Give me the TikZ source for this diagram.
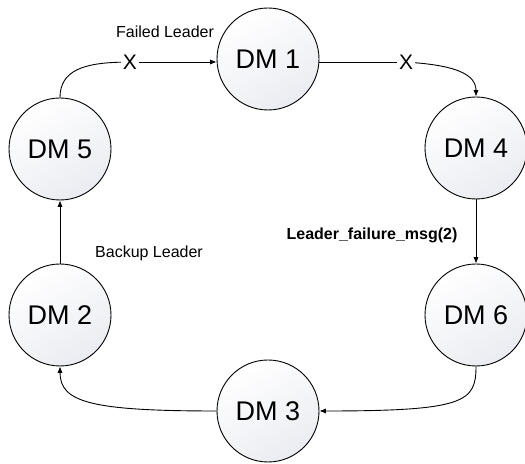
\documentclass[tikz,border=0pt]{standalone}
\usepackage{fontspec}
\setsansfont{Liberation Sans}
\usetikzlibrary{arrows.meta}
\definecolor{dmshade}{RGB}{234,236,241}

\begin{document}
\begin{tikzpicture}[
  x=0.5pt,
  y=-0.5pt,
  font=\sffamily,
  dmnode/.style={
    circle,
    draw=black,
    line width=0.45pt,
    shading=axis,
    top color=white,
    bottom color=dmshade,
    shading angle=30,
    minimum size=51pt,
    inner sep=0pt,
    font=\fontsize{13.5}{15}\sffamily
  },
  link/.style={draw=black, line width=0.45pt},
  arrowlink/.style={link, -{Latex[length=3.2pt,width=2.6pt]}},
  cross/.style={inner sep=0.8pt, font=\fontsize{10.5}{12}\sffamily},
  note/.style={font=\fontsize{8}{9.5}\sffamily, align=center},
  boldnote/.style={font=\fontsize{8}{9.5}\sffamily\bfseries, align=center}
]

\useasboundingbox (0,0) rectangle (525,464);

\node[dmnode] (dm1) at (268,59) {DM 1};
\node[dmnode] (dm4) at (476,148) {DM 4};
\node[dmnode] (dm6) at (476,315) {DM 6};
\node[dmnode] (dm3) at (268,411) {DM 3};
\node[dmnode] (dm2) at (60,315) {DM 2};
\node[dmnode] (dm5) at (60,149) {DM 5};

\node[cross] (x1) at (130,62) {X};
\node[cross] (x2) at (406,62) {X};

\draw[link] (dm5.north) .. controls (60,70) and (85,63) .. (x1);
\draw[arrowlink] (x1) -- (dm1.west |- x1);
\draw[link] (dm1.east |- x2) -- (x2);
\draw[arrowlink] (x2) .. controls (455,66) and (476,74) .. (dm4.north);
\draw[arrowlink] (dm4) -- (dm6);
\draw[arrowlink] (dm6.south) .. controls (476,402) and (465,411) .. (dm3.east);
\draw[arrowlink] (dm3.west) .. controls (90,411) and (60,402) .. (dm2.south);
\draw[arrowlink] (dm2) -- (dm5);

\node[note] (failed) at (165,32) {Failed Leader};
\node[note] (backup) at (149,253) {Backup Leader};
\node[boldnote] (msg) at (372,235) {Leader\_failure\_msg(2)};

\end{tikzpicture}
\end{document}
